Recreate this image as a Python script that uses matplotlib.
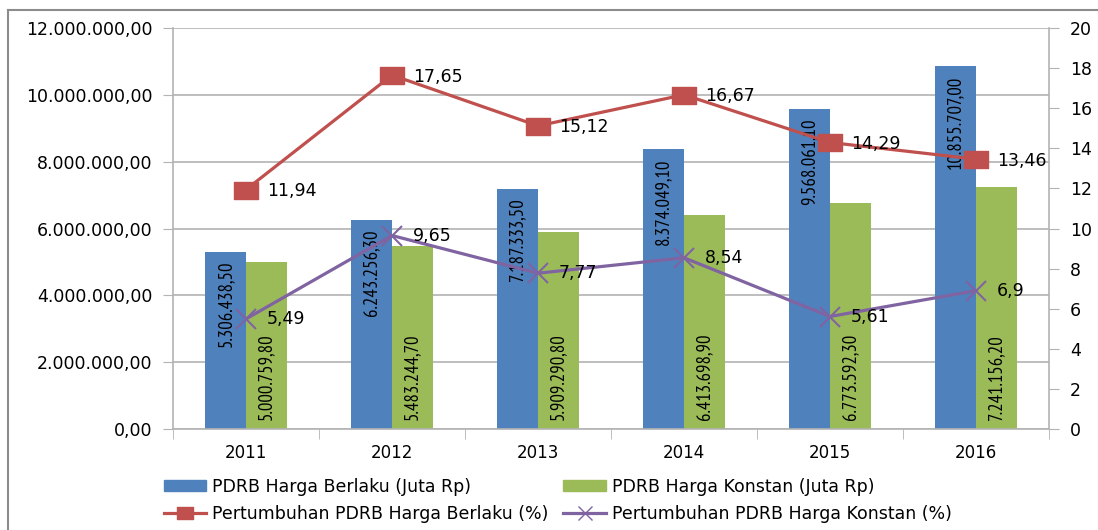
import matplotlib
matplotlib.use("Agg")
import matplotlib.pyplot as plt
from matplotlib.lines import Line2D
from matplotlib.patches import Patch
from matplotlib.path import Path
import numpy as np

years = ["2011", "2012", "2013", "2014", "2015", "2016"]
berlaku = [5306438.50, 6243256.30, 7187333.50, 8374049.10, 9568061.10, 10855707.00]
konstan = [5000759.80, 5483244.70, 5909290.80, 6413698.90, 6773592.30, 7241156.20]
growth_berlaku = [11.94, 17.65, 15.12, 16.67, 14.29, 13.46]
growth_konstan = [5.49, 9.65, 7.77, 8.54, 5.61, 6.9]
growth_berlaku_lbl = ["11,94", "17,65", "15,12", "16,67", "14,29", "13,46"]
growth_konstan_lbl = ["5,49", "9,65", "7,77", "8,54", "5,61", "6,9"]

names = ["PDRB Harga Berlaku (Juta Rp)", "PDRB Harga Konstan (Juta Rp)",
         "Pertumbuhan PDRB Harga Berlaku (%)", "Pertumbuhan PDRB Harga Konstan (%)"]

BLUE = "#4F81BD"
GREEN = "#9BBB59"
RED = "#C0504D"
PURPLE = "#8064A2"
GRID = "#B3B3B3"

NARROW = ["PT Sans Narrow", "DejaVu Sans"]
WIDE = ["DejaVu Sans"]

RECT = Path([(-1, -0.72), (1, -0.72), (1, 0.72), (-1, 0.72), (-1, -0.72)],
            [Path.MOVETO, Path.LINETO, Path.LINETO, Path.LINETO, Path.CLOSEPOLY])


def fmt_id(v):
    s = f"{v:,.2f}"
    return s.replace(",", "X").replace(".", ",").replace("X", ".")


fig = plt.figure(figsize=(10.98, 5.30), dpi=100)
ax = fig.add_axes([173/1098, 1-429/530, (1049-173)/1098, (429-28)/530])
ax2 = ax.twinx()

x = np.arange(len(years))
w = 0.28
ax.bar(x - w/2, berlaku, w, color=BLUE, zorder=2)
ax.bar(x + w/2, konstan, w, color=GREEN, zorder=2)

for xi, v in zip(x, berlaku):
    ax.text(xi - w/2, v - 0.27e6, fmt_id(v), rotation=90, ha="center", va="top",
            fontsize=13.5, family=NARROW, color="black", zorder=3)
for xi, v in zip(x, konstan):
    ax.text(xi + w/2, 0.27e6, fmt_id(v), rotation=90, ha="center", va="bottom",
            fontsize=13.5, family=NARROW, color="black", zorder=3)

ax.set_ylim(0, 12e6)
ax.set_yticks(np.arange(0, 12e6 + 1, 2e6))
ax.set_yticklabels([fmt_id(v) for v in np.arange(0, 12e6 + 1, 2e6)], family=WIDE, fontsize=12.5)
ax.set_xlim(-0.5, len(years) - 0.5)
ax.set_xticks(x)
ax.set_xticklabels(years, family=WIDE, fontsize=12)
ax.set_xticks(np.arange(-0.5, len(years), 1.0), minor=True)
ax.tick_params(axis="x", which="major", length=0, pad=11)
ax.tick_params(axis="x", which="minor", length=7, color=GRID, direction="out")
ax.tick_params(axis="y", length=7, color=GRID, direction="out", pad=8)
ax.grid(axis="y", color=GRID, linewidth=1.2, zorder=0)
ax.set_axisbelow(True)
for s in ["top", "right"]:
    ax.spines[s].set_visible(False)
for s in ["left", "bottom"]:
    ax.spines[s].set_color(GRID)
    ax.spines[s].set_linewidth(1.2)

ax2.plot(x, growth_berlaku, color=RED, lw=2.3, marker=RECT, ms=17, zorder=4)
ax2.plot(x, growth_konstan, color=PURPLE, lw=2.3, marker="x", ms=14, mew=1.5, zorder=4)
for xi, v, t in zip(x, growth_berlaku, growth_berlaku_lbl):
    ax2.annotate(t, (xi, v), xytext=(15, -1), textcoords="offset points",
                 ha="left", va="center", fontsize=12.5, family=WIDE, zorder=5)
for xi, v, t in zip(x, growth_konstan, growth_konstan_lbl):
    ax2.annotate(t, (xi, v), xytext=(15, 0), textcoords="offset points",
                 ha="left", va="center", fontsize=12.5, family=WIDE, zorder=5)
ax2.set_ylim(0, 20)
ax2.set_yticks(np.arange(0, 21, 2))
ax2.set_yticklabels([str(v) for v in range(0, 21, 2)], family=WIDE, fontsize=12.5)
ax2.tick_params(axis="y", length=7, color=GRID, direction="out", pad=8)
for s in ["top", "left", "bottom"]:
    ax2.spines[s].set_visible(False)
ax2.spines["right"].set_color(GRID)
ax2.spines["right"].set_linewidth(1.2)

handles = [Patch(color=BLUE),
           Line2D([], [], color=RED, lw=2.3, marker=RECT, ms=12),
           Patch(color=GREEN),
           Line2D([], [], color=PURPLE, lw=2.3, marker="x", ms=10, mew=1.0)]
labels = [names[0], names[2], names[1], names[3]]
fig.legend(handles, labels, ncol=2, loc="upper left", bbox_to_anchor=(148/1098, 1-462/530),
           frameon=False, prop={"family": WIDE, "size": 12.5}, handlelength=2.45,
           handleheight=0.55, columnspacing=0.85, handletextpad=0.35, labelspacing=0.55)

fig.add_artist(Line2D([8/1098, 8/1098], [0, 1-10/530], color="#8C8C8C", lw=1.5))
fig.add_artist(Line2D([8/1098, 1], [1-10/530, 1-10/530], color="#8C8C8C", lw=1.5))

fig.savefig("out.png", dpi=100)
